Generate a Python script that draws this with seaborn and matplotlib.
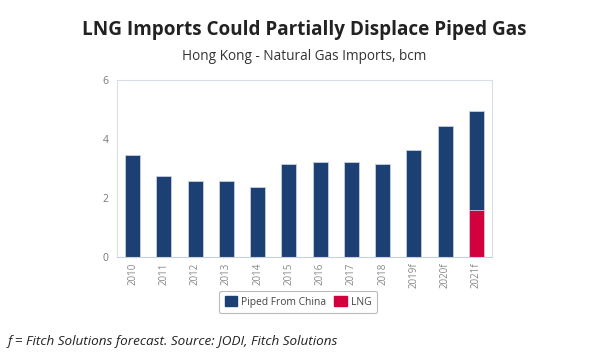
import numpy as np
import pandas as pd
import seaborn as sns
import matplotlib.pyplot as plt
from matplotlib.patches import Patch

years = ["2010", "2011", "2012", "2013", "2014", "2015", "2016", "2017",
         "2018", "2019f", "2020f", "2021f"]
piped = [3.45, 2.76, 2.57, 2.57, 2.36, 3.15, 3.23, 3.23, 3.15, 3.63, 4.45, 3.37]
lng = [0, 0, 0, 0, 0, 0, 0, 0, 0, 0, 0, 1.58]

navy = "#1c3f74"
red = "#d2003c"

sns.set_style("white")
plt.rcParams["font.family"] = ["Open Sans", "DejaVu Sans"]

df = pd.DataFrame({"year": years, "piped": piped, "lng": lng})
df["total"] = df["piped"] + df["lng"]

fig = plt.figure(figsize=(6.09, 3.6), dpi=100)
ax = fig.add_axes([117 / 609, 1 - 257 / 360, 375 / 609, 177 / 360])

sns.barplot(data=df, x="year", y="total", color=navy, width=0.48,
            saturation=1, ax=ax, edgecolor="#c8d0dc", linewidth=0.6)
sns.barplot(data=df, x="year", y="lng", color=red, width=0.48,
            saturation=1, ax=ax, edgecolor="#c8d0dc", linewidth=0.6)

ax.set_ylim(0, 6)
ax.set_xlim(-0.5, len(years) - 0.5)
ax.set_yticks([0, 2, 4, 6])
ax.set_xlabel("")
ax.set_ylabel("")
ax.tick_params(axis="y", labelsize=7.5, colors="#777777", length=0, pad=6)
ax.tick_params(axis="x", labelsize=7, colors="#888888", rotation=90, length=0, pad=4)
ax.set_xticks(np.arange(-0.5, len(years), 1), minor=True)
ax.tick_params(axis="x", which="minor", length=3, color="#c8d0dc")
for side in ["top", "right", "left"]:
    ax.spines[side].set_color("#d8dde6")
    ax.spines[side].set_linewidth(0.8)
ax.spines["bottom"].set_color("#c8d0dc")
ax.spines["bottom"].set_linewidth(0.8)

handles = [Patch(facecolor=navy, edgecolor=navy), Patch(facecolor=red, edgecolor=red)]
leg = fig.legend(handles, ["Piped From China", "LNG"], loc="center",
                 bbox_to_anchor=(298 / 609, 1 - 302 / 360), ncol=2,
                 fontsize=7.4, frameon=True, handlelength=1.2, handleheight=1.1,
                 columnspacing=0.8, handletextpad=0.4, borderpad=0.5)
leg.get_frame().set_edgecolor("#aaaaaa")
leg.get_frame().set_linewidth(0.8)
for t in leg.get_texts():
    t.set_color("#444444")

fig.text(0.5, 1 - 30 / 360, "LNG Imports Could Partially Displace Piped Gas",
         ha="center", va="center", fontsize=13.6, fontweight="bold", color="#222222")
fig.text(0.5, 1 - 57 / 360, "Hong Kong - Natural Gas Imports, bcm",
         ha="center", va="center", fontsize=9.8, color="#333333")
fig.text(8 / 609, 1 - 342 / 360, "f = Fitch Solutions forecast. Source: JODI, Fitch Solutions",
         ha="left", va="center", fontsize=9.7, style="italic", color="#222222")

fig.savefig("out.png", dpi=100)
